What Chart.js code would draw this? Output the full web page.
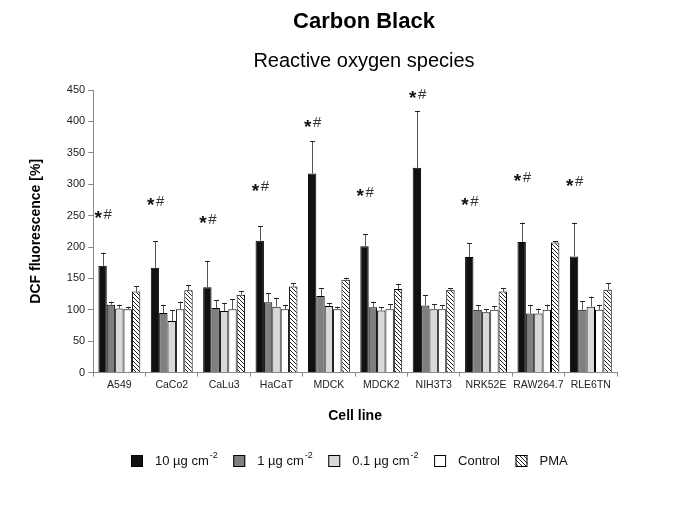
<!DOCTYPE html>
<html>
<head>
<meta charset="utf-8">
<script src="https://cdn.jsdelivr.net/npm/chart.js"></script>
<style>
  html, body { margin: 0; padding: 0; background: #fff; }
  #wrap { width: 685px; height: 513px; }
</style>
</head>
<body>
<div id="wrap"><canvas id="rosChart" width="685" height="513"></canvas></div>
<script>
// cell lines on the x axis
const cellLines = ['A549', 'CaCo2', 'CaLu3', 'HaCaT', 'MDCK', 'MDCK2', 'NIH3T3', 'NRK52E', 'RAW264.7', 'RLE6TN'];

// DCF fluorescence [%] per treatment, plus upper error (SD)
const dose10 = [170, 167, 136, 210, 317, 201, 326, 184, 208, 185];
const dose10Err = [21, 42, 42, 23, 51, 19, 91, 22, 31, 54];
const dose1 = [108, 95, 103, 112, 122, 104, 107, 100, 94, 100];
const dose1Err = [5, 13, 12, 14, 13, 9, 16, 7, 14, 14];
const dose01 = [102, 82, 98, 105, 106, 99, 101, 96, 94, 105];
const dose01Err = [6, 17, 13, 14, 5, 5, 8, 5, 8, 16];
const control = [101, 101, 101, 101, 101, 101, 101, 100, 100, 100];
const controlErr = [4, 12, 16, 7, 4, 8, 7, 6, 8, 8];
const pma = [129, 131, 124, 137, 148, 133, 132, 129, 207, 132];
const pmaErr = [9, 9, 6, 5, 3, 8, 3, 6, 2, 10];

// height of the "*#" significance marks
const sigMarkY = [251, 272, 244, 295, 397, 287, 443, 272, 310, 303];

const yTicks = { min: 0, max: 450, step: 50 };

const FONT = "'Liberation Sans', Arial, sans-serif";

// diagonal hatch for PMA
function makeHatch() {
    const c = document.createElement('canvas');
    c.width = 4; c.height = 4;
    const g = c.getContext('2d');
    g.fillStyle = '#fff';
    g.fillRect(0, 0, 4, 4);
    g.strokeStyle = '#222';
    g.lineWidth = 1;
    g.beginPath();
    g.moveTo(-1, -1); g.lineTo(5, 5);
    g.moveTo(-1, 3); g.lineTo(1, 5);
    g.moveTo(3, -1); g.lineTo(5, 1);
    g.stroke();
    return g.createPattern(c, 'repeat');
}
const hatch = makeHatch();

const series = [
    { label: '10 µg cm', sup: '-2', data: dose10, err: dose10Err, color: '#111111' },
    { label: '1 µg cm', sup: '-2', data: dose1, err: dose1Err, color: '#7f7f7f' },
    { label: '0.1 µg cm', sup: '-2', data: dose01, err: dose01Err, color: '#d9d9d9' },
    { label: 'Control', sup: '', data: control, err: controlErr, color: '#ffffff' },
    { label: 'PMA', sup: '', data: pma, err: pmaErr, color: hatch }
];

// upper error bars with caps
const errorBars = {
    id: 'errorBars',
    afterDatasetsDraw(chart) {
        const ctx = chart.ctx;
        const y = chart.scales.y;
        ctx.save();
        chart.data.datasets.forEach((ds, di) => {
            const meta = chart.getDatasetMeta(di);
            meta.data.forEach((bar, i) => {
                const top = y.getPixelForValue(ds.data[i] + ds.errors[i]);
                const bx = Math.round(bar.x) + 0.5;
                ctx.strokeStyle = '#555';
                ctx.lineWidth = 1;
                ctx.beginPath();
                ctx.moveTo(bx, bar.y);
                ctx.lineTo(bx, top);
                ctx.stroke();
                ctx.strokeStyle = '#222';
                ctx.beginPath();
                ctx.moveTo(bx - 2.5, Math.round(top) + 0.5);
                ctx.lineTo(bx + 2.5, Math.round(top) + 0.5);
                ctx.stroke();
            });
        });
        ctx.restore();
    }
};

// "*#" marks above each group
const sigMarks = {
    id: 'sigMarks',
    afterDatasetsDraw(chart) {
        const ctx = chart.ctx;
        const y = chart.scales.y;
        const meta = chart.getDatasetMeta(0);
        ctx.save();
        ctx.textBaseline = 'middle';
        meta.data.forEach((bar, i) => {
            const py = y.getPixelForValue(sigMarkY[i]);
            const x0 = bar.x - 8;
            ctx.fillStyle = '#111';
            ctx.font = 'bold 19px ' + FONT;
            ctx.textAlign = 'left';
            ctx.fillText('*', x0, py + 4);
            ctx.fillStyle = '#333';
            ctx.font = '15px ' + FONT;
            ctx.fillText('#', x0 + 9, py);
        });
        ctx.restore();
    }
};

// titles and legend
const decor = {
    id: 'decor',
    afterDraw(chart) {
        const ctx = chart.ctx;
        ctx.save();
        ctx.fillStyle = '#000';
        ctx.textAlign = 'center';
        ctx.textBaseline = 'middle';
        ctx.font = 'bold 22px ' + FONT;
        ctx.fillText('Carbon Black', 364, 22);
        ctx.font = '20px ' + FONT;
        ctx.fillText('Reactive oxygen species', 364, 61);

        // legend
        let x = 131;
        const ly = 461;
        ctx.textAlign = 'left';
        series.forEach(s => {
            ctx.fillStyle = s.color;
            ctx.fillRect(x, ly - 6, 12, 12);
            ctx.strokeStyle = '#000';
            ctx.lineWidth = 1;
            ctx.strokeRect(x + 0.5, ly - 5.5, 11, 11);
            let tx = x + 24;
            ctx.fillStyle = '#111';
            ctx.font = '13px ' + FONT;
            ctx.fillText(s.label, tx, ly);
            tx += ctx.measureText(s.label).width;
            if (s.sup) {
                ctx.font = '9px ' + FONT;
                ctx.fillText(s.sup, tx + 1, ly - 5);
                tx += ctx.measureText(s.sup).width + 1;
            }
            x = tx + 15.5;
        });
        ctx.restore();
    }
};

new Chart(document.getElementById('rosChart'), {
    type: 'bar',
    data: {
        labels: cellLines,
        datasets: series.map(s => ({
            label: s.label + s.sup,
            data: s.data,
            errors: s.err,
            backgroundColor: s.color,
            borderColor: '#000',
            borderWidth: 1,
            barPercentage: 1.0,
            categoryPercentage: 0.8
        }))
    },
    options: {
        responsive: false,
        animation: false,
        layout: { padding: { top: 90, left: 24, right: 68, bottom: 88 } },
        plugins: {
            legend: { display: false },
            tooltip: { enabled: false }
        },
        scales: {
            x: {
                grid: { display: true, drawOnChartArea: false, drawTicks: true, tickLength: 4, color: '#888', offset: true },
                border: { color: '#888' },
                ticks: { color: '#222', font: { family: FONT, size: 10.5 }, padding: 2, maxRotation: 0, autoSkip: false },
                title: { display: true, text: 'Cell line', color: '#000', font: { family: FONT, size: 14, weight: 'bold' }, padding: { top: 15, bottom: 0 } }
            },
            y: {
                min: yTicks.min,
                max: yTicks.max,
                grid: { display: true, drawOnChartArea: false, drawTicks: true, tickLength: 5, color: '#888' },
                border: { color: '#888' },
                ticks: { stepSize: yTicks.step, color: '#222', font: { family: FONT, size: 11 }, padding: 3 },
                title: { display: true, text: 'DCF fluorescence [%]', color: '#000', font: { family: FONT, size: 14, weight: 'bold' }, padding: { top: 4, bottom: 19 } }
            }
        }
    },
    plugins: [errorBars, sigMarks, decor]
});
</script>
</body>
</html>
